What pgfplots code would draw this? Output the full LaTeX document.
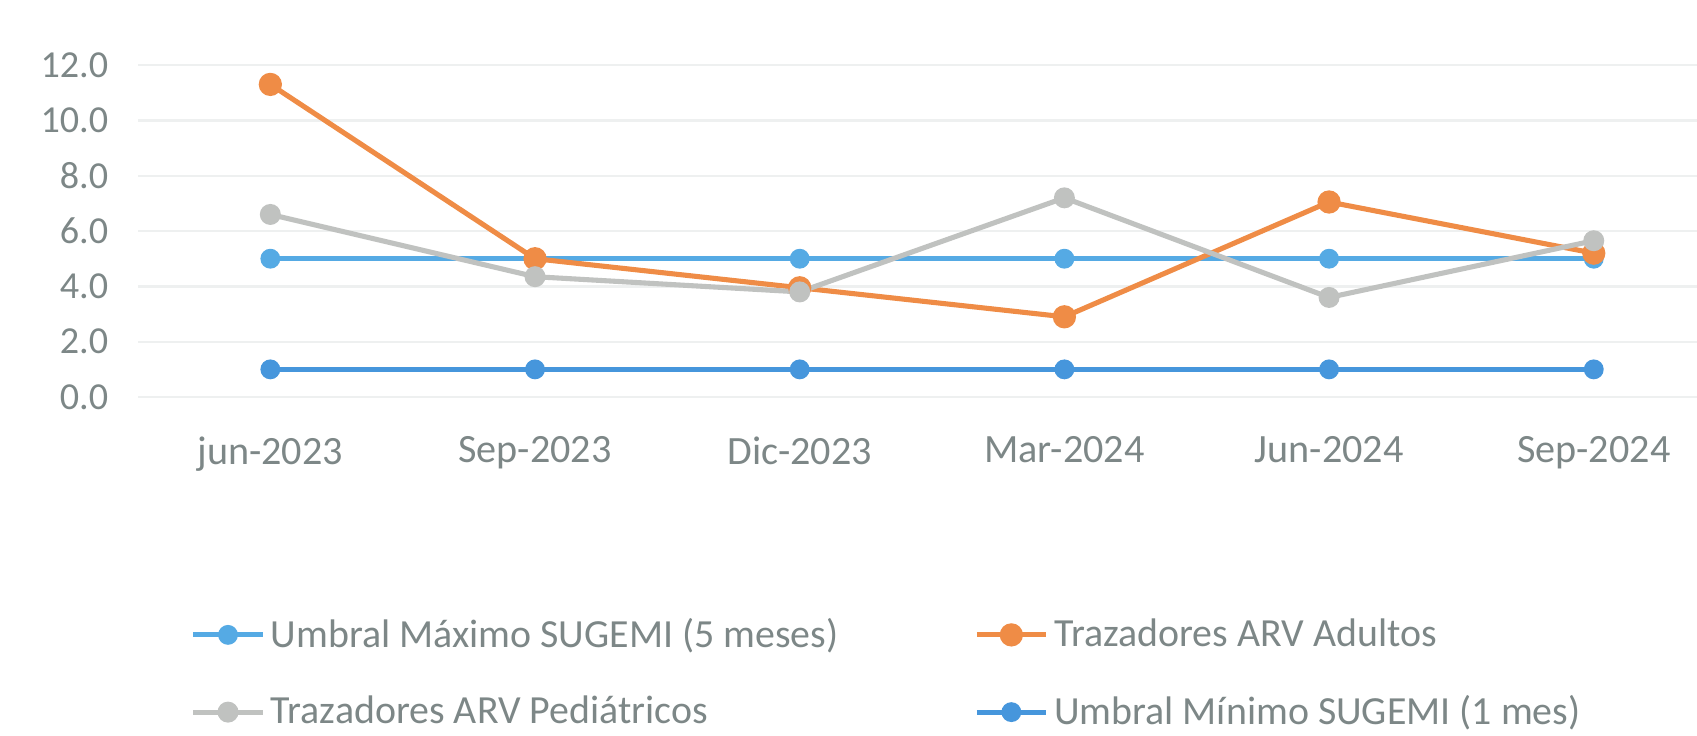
\documentclass[border=0pt]{standalone}
\usepackage{pgfplots}
\pgfplotsset{compat=1.18}
\usepackage{fontspec}
\setmainfont{Carlito}
\definecolor{cmax}{RGB}{85,170,228}
\definecolor{cmin}{RGB}{70,150,220}
\definecolor{corange}{RGB}{239,140,70}
\definecolor{cgrey}{RGB}{192,194,192}
\definecolor{ctext}{RGB}{125,135,135}
\definecolor{cgrid}{RGB}{238,240,240}
\begin{document}
\begin{tikzpicture}
\begin{axis}[
  at={(0,0)}, anchor=south west,
  scale only axis, width=551.3pt, height=117.4pt,
  xmin=-0.5, xmax=5.39, ymin=0, ymax=12,
  xtick={0,1,2,3,4,5},
  xticklabels={jun-2023,Sep-2023,Dic-2023,Mar-2024,Jun-2024,Sep-2024},
  ytick={0,2,4,6,8,10,12},
  /pgf/number format/assume math mode=true,
  /pgf/number format/fixed,
  /pgf/number format/fixed zerofill,
  /pgf/number format/precision=1,
  ymajorgrids, grid style={cgrid, line width=0.8pt},
  axis line style={draw=none},
  major tick length=0pt,
  tick label style={text=ctext},
  xticklabel style={yshift=-10.5pt, font=\fontsize{14.2}{17}\selectfont},
  yticklabel style={xshift=-7pt, font=\fontsize{13.5}{16}\selectfont},
  clip=false,
  legend columns=2,
  legend style={at={(0,0)}, anchor=north west, xshift=15.5pt, yshift=-74pt,
    draw=none, fill=none, font=\fontsize{14.1}{17}\selectfont, text=ctext,
    row sep=11.5pt, /tikz/every even column/.append style={column sep=46pt}},
  legend cell align=left,
  legend image code/.code={\draw[mark repeat=2,mark phase=2,#1] plot coordinates {(0cm,0cm) (0.43cm,0cm) (0.86cm,0cm)};},
]
\addplot[cmax, line width=1.8pt, mark=*, mark size=2.6pt] coordinates {(0,5.0) (1,5.0) (2,5.0) (3,5.0) (4,5.0) (5,5.0)};
\addlegendentry{Umbral Máximo SUGEMI (5 meses)}
\addplot[corange, line width=1.8pt, mark=*, mark size=3.2pt] coordinates {(0,11.3) (1,5.0) (2,3.95) (3,2.9) (4,7.05) (5,5.2)};
\addlegendentry{Trazadores ARV Adultos}
\addplot[cgrey, line width=1.8pt, mark=*, mark size=2.8pt] coordinates {(0,6.6) (1,4.35) (2,3.8) (3,7.2) (4,3.6) (5,5.65)};
\addlegendentry{Trazadores ARV Pediátricos}
\addplot[cmin, line width=1.8pt, mark=*, mark size=2.6pt] coordinates {(0,1.0) (1,1.0) (2,1.0) (3,1.0) (4,1.0) (5,1.0)};
\addlegendentry{Umbral Mínimo SUGEMI (1 mes)}
\end{axis}
\pgfresetboundingbox
\path[use as bounding box] (-48.8pt,-119.8pt) rectangle (551.3pt,140.4pt);
\end{tikzpicture}
\end{document}
